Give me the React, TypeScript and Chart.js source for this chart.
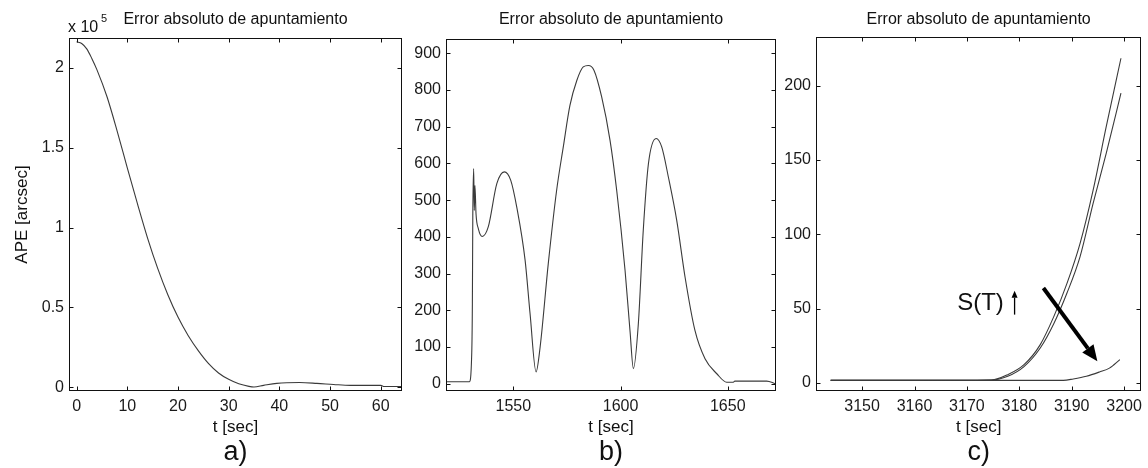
import React, { useEffect, useRef } from "react";
import { Chart, registerables } from "chart.js";
Chart.register(...registerables);

const FONT = "'Liberation Sans', Arial, sans-serif";

// ---------- Panel a ----------
const timeA = [0, 1, 2, 3, 4, 6, 8, 10, 12, 14, 16, 18, 20, 22, 24, 26, 28, 30, 32, 34, 35, 36.9, 39.5, 44, 47.4, 50.7, 54, 60, 60.7, 64.3];
const apeA = [216400, 215400, 212000, 206000, 199000, 182000, 160500, 137500, 115000, 93500, 74500, 58000, 44000, 32500, 23000, 15000, 9000, 5000, 2200, 600, 200, 1250, 2500, 3000, 2500, 1800, 1250, 1250, 500, 500];
const xTicksA = [0, 10, 20, 30, 40, 50, 60];
const yTicksA = [0, 50000, 100000, 150000, 200000];

// ---------- Panel b ----------
const timeB = [1518.9, 1529.5, 1530.6, 1530.9, 1531.1, 1531.5, 1531.8, 1532.1, 1532.6, 1533.7, 1535.5, 1538.3, 1542.3, 1545.8, 1548.8, 1551.6, 1555.5, 1557.8, 1560.6, 1562.5, 1566.3, 1570.2, 1573.3, 1576.4, 1579.6, 1582.6, 1585, 1587.6, 1591.2, 1595.1, 1598.2, 1602.1, 1604.4, 1606, 1608.3, 1610.6, 1613, 1616.6, 1619.2, 1622.3, 1626.2, 1630.1, 1634.7, 1639.4, 1644.9, 1649.5, 1652.6, 1653.3, 1668.2, 1672.1];
const apeB = [5, 5, 82, 218, 459, 586, 472, 540, 463, 422, 401, 427, 545, 577, 554, 481, 336, 191, 32, 100, 327, 527, 645, 758, 826, 863, 867, 854, 781, 663, 527, 309, 145, 41, 163, 418, 599, 668, 645, 563, 445, 290, 145, 68, 27, 4, 4, 7, 7, 0];
const xTicksB = [1550, 1600, 1650];
const yTicksB = [0, 100, 200, 300, 400, 500, 600, 700, 800, 900];

// ---------- Panel c ----------
const timeC = [3144, 3160, 3174.7, 3177.8, 3180.9, 3184, 3186.6, 3189.1, 3191.6, 3194.1, 3196.6, 3199.4];
const apeC1 = [1.75, 1.75, 2, 5.6, 12.3, 25.8, 44.8, 67, 94, 130, 172.6, 218.5];
const apeC2 = [1.75, 1.75, 2, 4.5, 11, 23.5, 40, 60.5, 85, 121, 154.7, 195];
const timeC3 = [3144, 3188.4, 3190.3, 3192.8, 3195.3, 3197.2, 3199.2];
const apeC3 = [1.75, 1.75, 2.7, 4.5, 7.4, 10, 15.7];
const xTicksC = [3150, 3160, 3170, 3180, 3190, 3200];
const yTicksC = [0, 50, 100, 150, 200];

const TITLE = "Error absoluto de apuntamiento";
const XLABEL = "t [sec]";
const YLABEL = "APE [arcsec]";

const decor = {
  id: "decor",
  afterDraw(chart: any, _args: any, o: any) {
    const ctx = chart.ctx;
    const a = chart.chartArea;
    const xs = chart.scales.x;
    const ys = chart.scales.y;
    const L = Math.round(a.left) + 0.5, R = Math.round(a.right) - 0.5;
    const T = Math.round(a.top) + 0.5, B = Math.round(a.bottom) - 0.5;
    ctx.save();
    ctx.strokeStyle = "#111";
    ctx.lineWidth = 1;
    ctx.strokeRect(L, T, R - L, B - T);
    ctx.beginPath();
    xs.ticks.forEach((t: any) => {
      const px = Math.round(xs.getPixelForValue(t.value)) + 0.5;
      ctx.moveTo(px, B); ctx.lineTo(px, B - 4);
      ctx.moveTo(px, T); ctx.lineTo(px, T + 4);
    });
    ys.ticks.forEach((t: any) => {
      const py = Math.round(ys.getPixelForValue(t.value)) + 0.5;
      ctx.moveTo(L, py); ctx.lineTo(L + 4, py);
      ctx.moveTo(R, py); ctx.lineTo(R - 4, py);
    });
    ctx.stroke();

    const cx = (a.left + a.right) / 2;
    ctx.fillStyle = "#111";
    ctx.textAlign = "center";
    ctx.textBaseline = "middle";
    ctx.font = `16px ${FONT}`;
    ctx.fillText(TITLE, cx, 20);
    ctx.font = `17px ${FONT}`;
    ctx.fillText(XLABEL, cx, 427);
    ctx.font = `27px ${FONT}`;
    ctx.fillText(o.letter, cx, 453);
    if (o.ylabel) {
      ctx.save();
      ctx.translate(22.5, (a.top + a.bottom) / 2);
      ctx.rotate(-Math.PI / 2);
      ctx.font = `17px ${FONT}`;
      ctx.fillText(YLABEL, 0, 0);
      ctx.restore();
    }
    if (o.exponent) {
      ctx.textAlign = "left";
      ctx.textBaseline = "alphabetic";
      ctx.font = `16px ${FONT}`;
      ctx.fillText("x 10", a.left - 1, 32);
      ctx.font = `11px ${FONT}`;
      ctx.fillText("5", a.left + 32, 22);
    }
    if (o.annot) {
      const n = o.annot;
      const X = (v: number) => xs.getPixelForValue(v);
      const Y = (v: number) => ys.getPixelForValue(v);
      ctx.textAlign = "center";
      ctx.textBaseline = "middle";
      ctx.font = `24px ${FONT}`;
      ctx.fillText(n.text, X(n.textAt[0]), Y(n.textAt[1]));
      const arrow = (x0: number, y0: number, x1: number, y1: number, w: number, hl: number, hw: number) => {
        const ang = Math.atan2(y1 - y0, x1 - x0);
        const bx = x1 - hl * Math.cos(ang), by = y1 - hl * Math.sin(ang);
        ctx.strokeStyle = "#000";
        ctx.lineWidth = w;
        ctx.beginPath(); ctx.moveTo(x0, y0); ctx.lineTo(bx, by); ctx.stroke();
        ctx.fillStyle = "#000";
        ctx.beginPath();
        ctx.moveTo(x1, y1);
        ctx.lineTo(bx + hw * Math.sin(ang), by - hw * Math.cos(ang));
        ctx.lineTo(bx - hw * Math.sin(ang), by + hw * Math.cos(ang));
        ctx.closePath(); ctx.fill();
      };
      arrow(X(n.small[0]), Y(n.small[1]), X(n.small[2]), Y(n.small[3]), 1.3, 7, 3);
      arrow(X(n.big[0]), Y(n.big[1]), X(n.big[2]), Y(n.big[3]), 4, 16, 7);
    }
    ctx.restore();
  },
};

function makeConfig(p: any) {
  return {
    type: "line",
    data: {
      datasets: p.series.map((s: any) => ({
        data: s.x.map((x: number, i: number) => ({ x, y: s.y[i] })),
        borderColor: "#3a3a3a",
        borderWidth: 1.1,
        pointRadius: 0,
        fill: false,
        cubicInterpolationMode: "monotone",
      })),
    },
    options: {
      responsive: false,
      animation: false,
      events: [],
      layout: { padding: { top: p.top, right: p.right, left: 0, bottom: 0 } },
      plugins: { legend: { display: false }, tooltip: { enabled: false }, decor: p.decor },
      scales: {
        x: {
          type: "linear",
          min: p.xmin,
          max: p.xmax,
          afterFit: (s: any) => { s.height = 77; },
          afterBuildTicks: (s: any) => { s.ticks = p.xt.map((v: number) => ({ value: v })); },
          grid: { display: false, drawTicks: false },
          border: { display: false },
          ticks: { font: { family: FONT, size: 16 }, color: "#1a1a1a", padding: 6, maxRotation: 0, autoSkip: false, callback: (v: number) => String(v) },
        },
        y: {
          type: "linear",
          min: p.ymin,
          max: p.ymax,
          afterFit: (s: any) => { s.width = p.yw; },
          afterBuildTicks: (s: any) => { s.ticks = p.yt.map((v: number) => ({ value: v })); },
          grid: { display: false, drawTicks: false },
          border: { display: false },
          ticks: { font: { family: FONT, size: 16 }, color: "#1a1a1a", padding: 5, autoSkip: false, callback: p.yfmt || ((v: number) => String(v)) },
        },
      },
    },
    plugins: [decor],
  };
}

const panels = [
  {
    left: 0, width: 410, top: 38, right: 8, yw: 69,
    xmin: -1.5, xmax: 64.2, ymin: -2300, ymax: 218800,
    xt: xTicksA, yt: yTicksA, yfmt: (v: number) => String(v / 100000),
    series: [{ x: timeA, y: apeA }],
    decor: { letter: "a)", ylabel: true, exponent: true },
  },
  {
    left: 410, width: 370, top: 39, right: 4, yw: 36,
    xmin: 1518.6, xmax: 1672.5, ymin: -20, ymax: 939,
    xt: xTicksB, yt: yTicksB,
    series: [{ x: timeB, y: apeB }],
    decor: { letter: "b)" },
  },
  {
    left: 780, width: 368, top: 37, right: 2, yw: 36,
    xmin: 3141.2, xmax: 3203.3, ymin: -5.4, ymax: 232.8,
    xt: xTicksC, yt: yTicksC,
    series: [{ x: timeC, y: apeC1 }, { x: timeC, y: apeC2 }, { x: timeC3, y: apeC3 }],
    decor: {
      letter: "c)",
      annot: { text: "S(T)", textAt: [3172.6, 53.3], small: [3179.1, 46, 3179.1, 62], big: [3184.6, 63.9, 3194.9, 14.6] },
    },
  },
];

export default function App() {
  const refs = [useRef<HTMLCanvasElement>(null), useRef<HTMLCanvasElement>(null), useRef<HTMLCanvasElement>(null)];
  useEffect(() => {
    const charts = panels.map((p, i) => new Chart(refs[i].current as HTMLCanvasElement, makeConfig(p) as any));
    return () => charts.forEach((c) => c.destroy());
  }, []);
  return (
    <div style={{ position: "fixed", left: 0, top: 0, width: 1148, height: 468, background: "#fff" }}>
      {panels.map((p, i) => (
        <canvas
          key={i}
          ref={refs[i]}
          width={p.width}
          height={468}
          style={{ position: "absolute", left: p.left, top: 0, width: p.width, height: 468 }}
        />
      ))}
    </div>
  );
}
